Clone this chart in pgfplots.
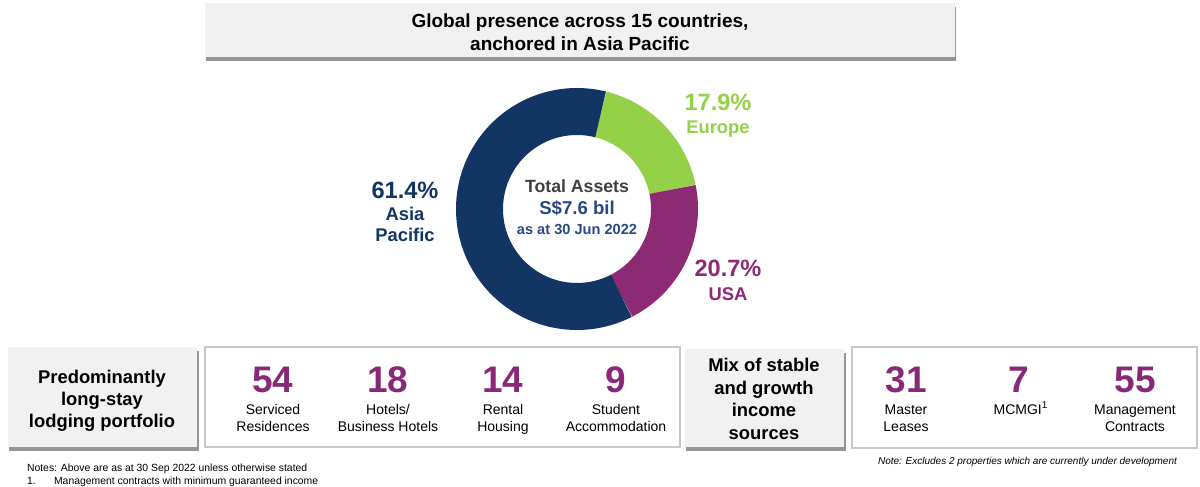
\documentclass[border=0pt]{standalone}
\usepackage{pgfplots}
\pgfplotsset{compat=1.18}
\usepackage{pgfplotstable}
\usepackage{fontspec}
\setmainfont{Liberation Sans}
\definecolor{navy}{RGB}{19,53,100}
\definecolor{eugreen}{RGB}{148,208,72}
\definecolor{uspurple}{RGB}{140,42,116}
\definecolor{numpurple}{RGB}{136,40,118}
\definecolor{midblue}{RGB}{40,72,132}
\definecolor{darkgray}{RGB}{64,64,64}
\definecolor{boxgray}{RGB}{241,241,241}
\definecolor{shadowgray}{RGB}{150,150,150}
\definecolor{bordergray}{RGB}{200,200,200}
\newcommand\fs[1]{\fontsize{#1}{#1}\selectfont}

\pgfplotstableread{
region share
Europe 17.9
USA 20.7
AsiaPacific 61.4
}\assets

\begin{document}
\begin{tikzpicture}
\pgfplotstablegetelem{0}{share}\of\assets \let\sEu\pgfplotsretval
\pgfplotstablegetelem{1}{share}\of\assets \let\sUs\pgfplotsretval
\pgfplotstablegetelem{2}{share}\of\assets \let\sAp\pgfplotsretval
\pgfmathsetmacro\aA{76}
\pgfmathsetmacro\aB{\aA-3.6*\sEu}
\pgfmathsetmacro\aC{\aB-3.6*\sUs}
\pgfmathsetmacro\aD{\aC-3.6*\sAp}
\begin{axis}[
  at={(0pt,0pt)}, anchor=south west,
  scale only axis, width=600pt, height=243.5pt,
  xmin=0, xmax=1200, ymin=0, ymax=487,
  hide axis, clip=false,
  every node/.style={inner sep=0pt, outer sep=0pt},
]
% title box
\fill[shadowgray] (axis cs:206,426) rectangle (axis cs:956,480);
\fill[boxgray] (axis cs:205,430) rectangle (axis cs:955,484);
\node[anchor=base] at (axis cs:580,459.5) {\fs{9.5}\bfseries Global presence across 15 countries,};
\node[anchor=base] at (axis cs:580,436.5) {\fs{9.5}\bfseries anchored in Asia Pacific};

% donut
\addplot[eugreen, line width=23.5pt, domain=\aB:\aA, samples=60, mark=none] ({577+97.5*cos(x)},{278+97.5*sin(x)});
\addplot[uspurple, line width=23.5pt, domain=\aC:\aB, samples=60, mark=none] ({577+97.5*cos(x)},{278+97.5*sin(x)});
\addplot[navy, line width=23.5pt, domain=\aD:\aC, samples=160, mark=none] ({577+97.5*cos(x)},{278+97.5*sin(x)});

% donut labels
\node[anchor=base, text=navy] at (axis cs:405,288.5) {\fs{11.8}\bfseries 61.4\%};
\node[anchor=base, text=navy] at (axis cs:405,266.4) {\fs{9.2}\bfseries Asia};
\node[anchor=base, text=navy] at (axis cs:405,245.4) {\fs{9.2}\bfseries Pacific};
\node[anchor=base, text=eugreen] at (axis cs:718,376.5) {\fs{11.8}\bfseries 17.9\%};
\node[anchor=base, text=eugreen] at (axis cs:718,353.4) {\fs{9.2}\bfseries Europe};
\node[anchor=base, text=uspurple] at (axis cs:728,210.5) {\fs{11.8}\bfseries 20.7\%};
\node[anchor=base, text=uspurple] at (axis cs:728,186.4) {\fs{9.2}\bfseries USA};
\node[anchor=base, text=darkgray] at (axis cs:577,294.7) {\fs{8.85}\bfseries Total Assets};
\node[anchor=base, text=midblue] at (axis cs:577,272.3) {\fs{9.3}\bfseries S\$7.6 bil};
\node[anchor=base, text=midblue] at (axis cs:577,252.8) {\fs{7.3}\bfseries as at 30 Jun 2022};

% bottom left
\fill[shadowgray] (axis cs:9,36) rectangle (axis cs:199,136);
\fill[boxgray] (axis cs:8,40) rectangle (axis cs:197,140);
\node[anchor=base] at (axis cs:102,103.5) {\fs{9.2}\bfseries Predominantly};
\node[anchor=base] at (axis cs:102,81.5) {\fs{9.2}\bfseries long-stay};
\node[anchor=base] at (axis cs:102,59.5) {\fs{9.2}\bfseries lodging portfolio};
\draw[bordergray, line width=0.75pt] (axis cs:205,40) rectangle (axis cs:680,140);
\node[anchor=base, text=numpurple] at (axis cs:273,94.5) {\fs{18.5}\bfseries 54};
\node[anchor=base, text=numpurple] at (axis cs:388,94.5) {\fs{18.5}\bfseries 18};
\node[anchor=base, text=numpurple] at (axis cs:503,94.5) {\fs{18.5}\bfseries 14};
\node[anchor=base, text=numpurple] at (axis cs:616,94.5) {\fs{18.5}\bfseries 9};
\node[anchor=base] at (axis cs:273,72) {\fs{7}Serviced};
\node[anchor=base] at (axis cs:273,55) {\fs{7}Residences};
\node[anchor=base] at (axis cs:388,72) {\fs{7}Hotels/};
\node[anchor=base] at (axis cs:388,55) {\fs{7}Business Hotels};
\node[anchor=base] at (axis cs:503,72) {\fs{7}Rental};
\node[anchor=base] at (axis cs:503,55) {\fs{7}Housing};
\node[anchor=base] at (axis cs:616,72) {\fs{7}Student};
\node[anchor=base] at (axis cs:616,55) {\fs{7}Accommodation};

% bottom right
\fill[shadowgray] (axis cs:686,36) rectangle (axis cs:846,134);
\fill[boxgray] (axis cs:685,40) rectangle (axis cs:844,138);
\node[anchor=base] at (axis cs:764,115) {\fs{9.2}\bfseries Mix of stable};
\node[anchor=base] at (axis cs:764,92.5) {\fs{9.2}\bfseries and growth};
\node[anchor=base] at (axis cs:764,70) {\fs{9.2}\bfseries income};
\node[anchor=base] at (axis cs:764,47.5) {\fs{9.2}\bfseries sources};
\draw[bordergray, line width=0.75pt] (axis cs:852,39) rectangle (axis cs:1197,140);
\node[anchor=base, text=numpurple] at (axis cs:906,94.5) {\fs{18.5}\bfseries 31};
\node[anchor=base, text=numpurple] at (axis cs:1019,94.5) {\fs{18.5}\bfseries 7};
\node[anchor=base, text=numpurple] at (axis cs:1135,94.5) {\fs{18.5}\bfseries 55};
\node[anchor=base] at (axis cs:906,72) {\fs{7}Master};
\node[anchor=base] at (axis cs:906,55) {\fs{7}Leases};
\node[anchor=base] at (axis cs:1021,72) {\fs{7}MCMGI\textsuperscript{1}};
\node[anchor=base] at (axis cs:1135,72) {\fs{7}Management};
\node[anchor=base] at (axis cs:1135,55) {\fs{7}Contracts};

% notes
\node[anchor=base west] at (axis cs:20,15) {\fs{5.2}Notes: Above are as at 30 Sep 2022 unless otherwise stated};
\node[anchor=base west] at (axis cs:20,2) {\fs{5.2}1.};
\node[anchor=base west] at (axis cs:47,2) {\fs{5.2}Management contracts with minimum guaranteed income};
\node[anchor=base east] at (axis cs:1184,22) {\fs{5}\itshape Note: Excludes 2 properties which are currently under development};
\end{axis}
\pgfresetboundingbox
\useasboundingbox (0,0) rectangle (600pt,243.5pt);
\end{tikzpicture}
\end{document}
